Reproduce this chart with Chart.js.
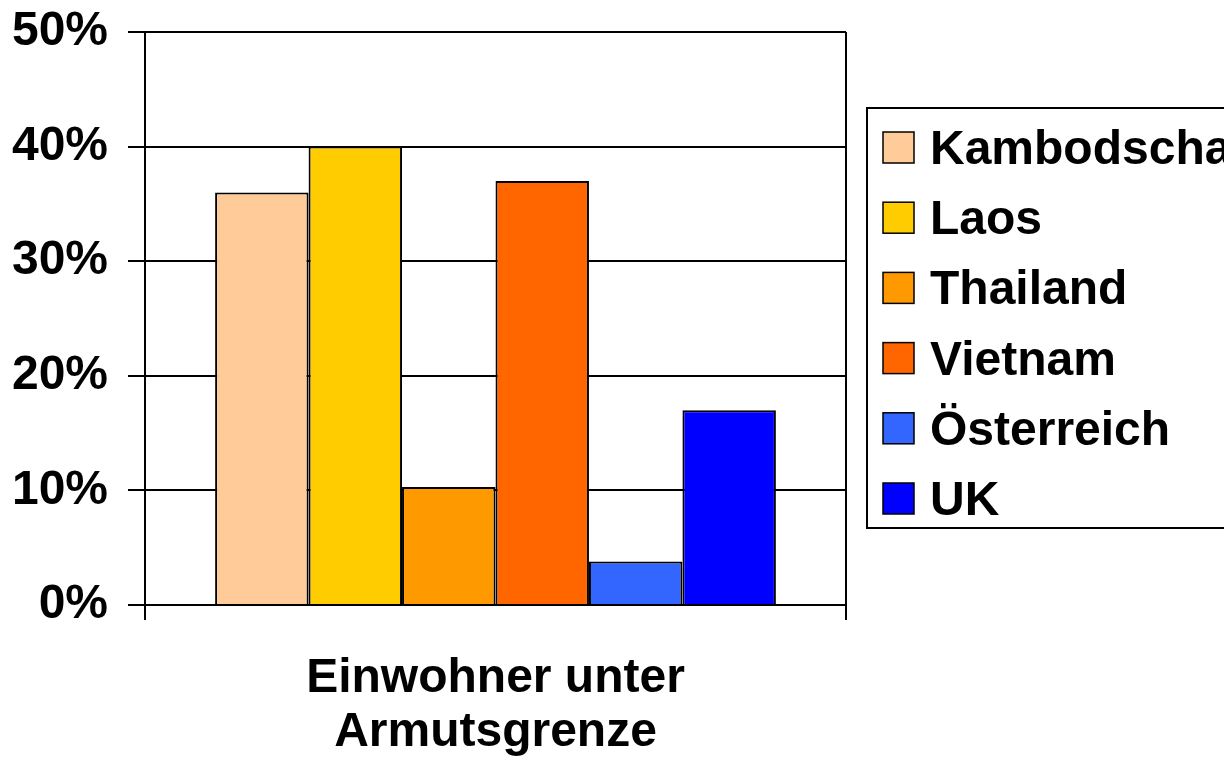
<!DOCTYPE html>
<html><head><meta charset="utf-8">
<script src="https://cdn.jsdelivr.net/npm/chart.js@4/dist/chart.umd.min.js"></script>
<style>html,body{margin:0;padding:0;background:#fff;overflow:hidden}#wrap{width:1224px;height:765px;position:relative}</style>
</head><body><div id="wrap"><canvas id="c" width="1224" height="765"></canvas></div>
<script>
const categories = [['Einwohner unter', 'Armutsgrenze']];
const seriesNames = ['Kambodscha', 'Laos', 'Thailand', 'Vietnam', 'Österreich', 'UK'];
const seriesValues = [36, 40, 10.3, 37, 3.8, 17];
const seriesColors = ['#FFCC99', '#FFCC00', '#FF9900', '#FF6600', '#3366FF', '#0000FF'];
const yTicks = [0, 10, 20, 30, 40, 50];

const FONT = "'Liberation Sans', Arial, Helvetica, sans-serif";

const boxLegend = {
  id: 'boxLegend',
  afterDraw(chart) {
    const ctx = chart.ctx;
    ctx.save();
    ctx.lineWidth = 2;
    ctx.strokeStyle = '#000';
    ctx.strokeRect(867, 108, 420, 420);
    ctx.font = 'bold 48px ' + FONT;
    ctx.textBaseline = 'alphabetic';
    ctx.textAlign = 'left';
    chart.data.datasets.forEach((ds, i) => {
      const cy = 147 + i * 70.2;
      ctx.fillStyle = ds.backgroundColor;
      ctx.fillRect(883, cy - 15, 31, 31);
      ctx.lineWidth = 1.5;
      ctx.strokeStyle = '#000';
      ctx.strokeRect(883, cy - 15, 31, 31);
      ctx.fillStyle = '#000';
      ctx.fillText(ds.label, 930, cy + 17);
    });
    ctx.restore();
  }
};

new Chart(document.getElementById('c'), {
  type: 'bar',
  data: {
    labels: categories,
    datasets: seriesNames.map((n, i) => ({
      label: n,
      data: [seriesValues[i]],
      backgroundColor: seriesColors[i],
      borderColor: '#000',
      borderWidth: 2,
      categoryPercentage: 0.8,
      barPercentage: 1.0
    }))
  },
  options: {
    responsive: false,
    devicePixelRatio: 1,
    animation: false,
    layout: { padding: { top: 32, right: 378, bottom: 0, left: 0 } },
    plugins: { legend: { display: false }, tooltip: { enabled: false } },
    scales: {
      x: {
        grid: { offset: true, color: '#000', lineWidth: 2, tickLength: 15, drawOnChartArea: true },
        border: { color: '#000', width: 2 },
        ticks: { color: '#000', maxRotation: 0, padding: 32,
                 font: { family: FONT, size: 48, weight: 'bold', lineHeight: 1.12 } },
        afterFit: s => { s.height = 160; s.paddingLeft = 0; s.paddingRight = 0; }
      },
      y: {
        min: 0, max: 50,
        afterBuildTicks: s => { s.ticks = yTicks.map(v => ({ value: v })); },
        grid: { color: '#000', lineWidth: 2, tickLength: 17 },
        border: { color: '#000', width: 2 },
        ticks: { color: '#000', padding: 20, callback: v => v + '%',
                 font: { family: FONT, size: 48, weight: 'bold' } },
        afterFit: s => { s.width = 145; s.paddingTop = 0; s.paddingBottom = 0; }
      }
    }
  },
  plugins: [boxLegend]
});
</script>
</body></html>
